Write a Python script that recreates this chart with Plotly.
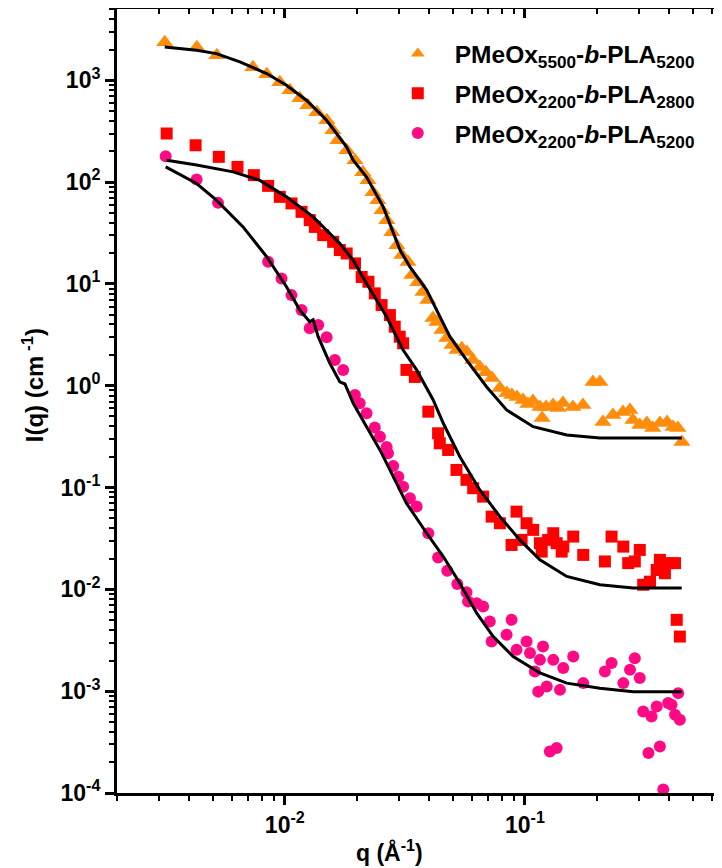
import plotly.graph_objects as go

# ---------------- data ----------------
# PMeOx5500-b-PLA5200 (orange triangles)
q_a = [0.00316, 0.0043, 0.00521, 0.00736, 0.00841, 0.00953, 0.0105, 0.01155, 0.01247, 0.0136,
       0.01496, 0.01585, 0.01663, 0.01813, 0.0196, 0.02113, 0.0222, 0.0233, 0.0244, 0.0254,
       0.0266, 0.0279, 0.0293, 0.0307, 0.0326, 0.0338, 0.0358, 0.0376, 0.0394, 0.0414,
       0.043, 0.0451, 0.0473, 0.0497, 0.0521, 0.0546, 0.0573, 0.0607, 0.0649, 0.0688,
       0.0729, 0.0787, 0.0841, 0.0883, 0.0927, 0.0982, 0.1029, 0.108, 0.1155, 0.118,
       0.1224, 0.131, 0.1373, 0.144, 0.1585, 0.1745, 0.192, 0.2054, 0.2113, 0.2326,
       0.256, 0.2738, 0.2818, 0.301, 0.322, 0.341, 0.365, 0.391, 0.414, 0.434, 0.451]
I_a = [2360, 2110, 1757, 1342, 1146, 956, 797, 666, 569, 486,
       405, 323, 258, 206, 164, 125, 104, 79.6, 66.4, 53,
       42.3, 32.2, 24, 19.2, 16.4, 12.2, 10.4, 8.32, 6.94, 4.62,
       4.22, 3.52, 2.94, 2.51, 2.24, 2.34, 2.14, 1.79, 1.53, 1.36,
       1.19, 0.949, 0.848, 0.811, 0.775, 0.724, 0.661, 0.708, 0.618, 0.482,
       0.618, 0.647, 0.604, 0.676, 0.618, 0.647, 1.09, 1.09, 0.44, 0.515,
       0.552, 0.577, 0.46, 0.411, 0.43, 0.385, 0.43, 0.44, 0.394, 0.385, 0.28]
fit_q_a = [0.00316, 0.00429, 0.00519, 0.0065, 0.0084, 0.01016, 0.0123, 0.01493, 0.0181, 0.01927,
           0.0219, 0.0257, 0.0302, 0.0332, 0.039, 0.0429, 0.0487, 0.0571, 0.0692, 0.0839,
           0.1083, 0.1494, 0.2054, 0.2818, 0.45]
fit_I_a = [2122, 1968, 1827, 1514, 1164, 893, 637, 405, 221, 164,
           112, 57.1, 21.5, 14.7, 8.69, 5.53, 3.03, 1.79, 0.977, 0.578,
           0.396, 0.328, 0.307, 0.307, 0.307]

# PMeOx2200-b-PLA2800 (red squares)
q_b = [0.00322, 0.00425, 0.00531, 0.00635, 0.00743, 0.00852, 0.00953, 0.01066, 0.01174, 0.0127,
       0.01334, 0.01445, 0.0159, 0.01695, 0.0181, 0.0196, 0.0209, 0.0223, 0.0237, 0.0253,
       0.0274, 0.0287, 0.0301, 0.0311, 0.0321, 0.0348, 0.0396, 0.0435, 0.0442, 0.0479,
       0.0519, 0.0571, 0.0609, 0.067, 0.0727, 0.0787, 0.088, 0.0923, 0.0969, 0.1016,
       0.1083, 0.1155, 0.1175, 0.125, 0.1313, 0.1356, 0.1445, 0.1423, 0.159, 0.175,
       0.2154, 0.2296, 0.257, 0.2694, 0.287, 0.301, 0.311, 0.332, 0.354, 0.365,
       0.383, 0.395, 0.422, 0.429, 0.442]
I_b = [300, 230, 177, 141, 117, 91.8, 71.6, 61.7, 51, 42.3,
       36.3, 30.1, 25.9, 21.5, 19.9, 15.9, 11.7, 10.5, 8.07, 6.2,
       4.94, 3.8, 3.03, 2.61, 1.43, 1.22, 0.556, 0.341, 0.272, 0.234,
       0.149, 0.119, 0.0985, 0.0815, 0.0518, 0.0446, 0.0273, 0.058, 0.0306, 0.0446,
       0.0384, 0.0284, 0.0235, 0.0306, 0.0356, 0.0284, 0.0263, 0.0235, 0.033, 0.0218,
       0.0188, 0.033, 0.0263, 0.0181, 0.0188, 0.0244, 0.0111, 0.0119, 0.0155, 0.0195,
       0.0144, 0.0181, 0.0181, 0.00502, 0.00344]
fit_q_b = [0.00322, 0.00429, 0.00609, 0.00787, 0.01016, 0.01312, 0.01695, 0.01927, 0.0219, 0.02655,
           0.0311, 0.0354, 0.0415, 0.0457, 0.0536, 0.0649, 0.0787, 0.0953, 0.1155, 0.1494,
           0.2054, 0.2825, 0.45]
fit_I_b = [164, 147, 126, 104, 71.6, 45.5, 24.9, 17.1, 10.1, 4.75,
           2.24, 1.43, 0.724, 0.428, 0.201, 0.0947, 0.0518, 0.0306, 0.0195, 0.0134,
           0.0111, 0.0103, 0.0103]

# PMeOx2200-b-PLA5200 (pink circles)
q_c = [0.00319, 0.00429, 0.00527, 0.00852, 0.00969, 0.01066, 0.01174, 0.0127, 0.01377, 0.01493,
       0.01616, 0.0175, 0.0196, 0.0205, 0.0219, 0.0237, 0.0249, 0.02655, 0.0269, 0.0283,
       0.0297, 0.0311, 0.0332, 0.0354, 0.0396, 0.0435, 0.0475, 0.0523, 0.0571, 0.058,
       0.063, 0.067, 0.0714, 0.088, 0.0839, 0.0727, 0.0923, 0.1016, 0.105, 0.119,
       0.1155, 0.110, 0.1313, 0.1445, 0.159, 0.175, 0.1233, 0.1136, 0.14, 0.127,
       0.1356, 0.2154, 0.2296, 0.257, 0.274, 0.287, 0.301, 0.311, 0.337, 0.354,
       0.395, 0.408, 0.422, 0.442, 0.435, 0.327, 0.365, 0.377]
I_c = [179, 106, 62.5, 16.5, 11.3, 7.76, 5.53, 3.66, 3.94, 2.99,
       1.79, 1.43, 0.811, 0.672, 0.536, 0.389, 0.316, 0.25, 0.217, 0.163,
       0.128, 0.102, 0.0785, 0.065, 0.0356, 0.0206, 0.0152, 0.0113, 0.00935, 0.00759,
       0.00732, 0.00678, 0.00483, 0.00502, 0.00358, 0.00308, 0.00255, 0.00308, 0.00237, 0.00275,
       0.00203, 0.00156, 0.00203, 0.00169, 0.00219, 0.0012, 0.00111, 0.00099, 0.00103, 0.000256,
       0.000277, 0.00156, 0.00189, 0.0012, 0.00162, 0.00211, 0.00135, 0.000633, 0.000565, 0.000708,
       0.000764, 0.000736, 0.000586, 0.000523, 0.000957, 0.000247, 0.000286, 0.000108]
fit_q_c = [0.00319, 0.00429, 0.00519, 0.0067, 0.0084, 0.01016, 0.01155, 0.0127, 0.01312, 0.01377,
           0.0154, 0.01695, 0.0178, 0.01927, 0.0219, 0.0249, 0.0283, 0.0321, 0.039, 0.0457,
           0.0536, 0.063, 0.0738, 0.0894, 0.1155, 0.1494, 0.2054, 0.2825, 0.45]
fit_I_c = [141, 96.8, 66.4, 36.3, 18.5, 9.37, 5.53, 4.25, 4.45, 3.03,
           1.66, 1.09, 1.04, 0.672, 0.396, 0.234, 0.128, 0.0702, 0.0356, 0.021,
           0.0115, 0.00583, 0.00344, 0.00219, 0.00151, 0.0012, 0.00107, 0.00099, 0.00099]

names = ["PMeOx<sub>5500</sub>-<i>b</i>-PLA<sub>5200</sub>",
         "PMeOx<sub>2200</sub>-<i>b</i>-PLA<sub>2800</sub>",
         "PMeOx<sub>2200</sub>-<i>b</i>-PLA<sub>5200</sub>"]
colors = ["#FF8C0A", "#FF0000", "#FF0A84"]
symbols = ["triangle-up", "square", "circle"]
sizes = [15, 12, 12]

y_tickvals = [1e-4, 1e-3, 1e-2, 1e-1, 1, 10, 100, 1000]
y_ticktext = ["10<sup>-4</sup>", "10<sup>-3</sup>", "10<sup>-2</sup>", "10<sup>-1</sup>",
              "10<sup>0</sup>", "10<sup>1</sup>", "10<sup>2</sup>", "10<sup>3</sup>"]
x_tickvals = [0.01, 0.1]
x_ticktext = ["10<sup>-2</sup>", "10<sup>-1</sup>"]

FONT = "Arial, Liberation Sans, sans-serif"

fig = go.Figure()
series = [(q_a, I_a), (q_b, I_b), (q_c, I_c)]
fits = [(fit_q_a, fit_I_a), (fit_q_b, fit_I_b), (fit_q_c, fit_I_c)]
for i, (qq, ii) in enumerate(series):
    fig.add_trace(go.Scatter(x=qq, y=ii, mode="markers", name=names[i], legendgroup=f"g{i}",
                             marker=dict(symbol=symbols[i], size=sizes[i], color=colors[i],
                                         line=dict(width=0))))
for qq, ii in fits:
    fig.add_trace(go.Scatter(x=qq, y=ii, mode="lines", showlegend=False,
                             line=dict(color="black", width=3)))
# empty trace to carry the mirror (top/right) axes
fig.add_trace(go.Scatter(x=[], y=[], xaxis="x2", yaxis="y2", showlegend=False, hoverinfo="skip"))

XR = [-2.699, -0.179]
YR = [-4, 3.7]

fig.update_layout(
    width=714, height=860,
    margin=dict(l=109, r=0, t=1, b=75),
    paper_bgcolor="white", plot_bgcolor="white",
    showlegend=True,
    legend=dict(x=0.436, y=0.972, xanchor="left", yanchor="top", bgcolor="rgba(0,0,0,0)",
                font=dict(family=FONT, size=24.5, color="black", weight="bold"),
                tracegroupgap=5, itemwidth=64, itemsizing="constant"),
    xaxis=dict(type="log", range=XR, showgrid=False, zeroline=False, automargin=False,
               showline=True, linecolor="black", linewidth=3,
               ticks="outside", ticklen=9, tickwidth=2.5, tickcolor="black",
               tickmode="array", tickvals=x_tickvals, ticktext=x_ticktext,
               tickfont=dict(family=FONT, size=23, color="black", weight="bold"),
               minor=dict(ticks="outside", ticklen=5, tickwidth=2, tickcolor="black", dtick="D1", showgrid=False)),
    yaxis=dict(type="log", range=YR, showgrid=False, zeroline=False, automargin=False,
               showline=True, linecolor="black", linewidth=3,
               ticks="outside", ticklen=9, tickwidth=2.5, tickcolor="black",
               tickmode="array", tickvals=y_tickvals, ticktext=y_ticktext,
               tickfont=dict(family=FONT, size=23, color="black", weight="bold"),
               minor=dict(ticks="outside", ticklen=5, tickwidth=2, tickcolor="black", dtick="D1", showgrid=False)),
    xaxis2=dict(type="log", range=XR, overlaying="x", side="top", anchor="y2", automargin=False,
                showgrid=False, zeroline=False, showline=True, linecolor="black", linewidth=3,
                ticks="inside", ticklen=9, tickwidth=2.5, tickcolor="black",
                tickmode="array", tickvals=x_tickvals, showticklabels=False,
                minor=dict(ticks="inside", ticklen=5, tickwidth=2, tickcolor="black", dtick="D1", showgrid=False)),
    yaxis2=dict(type="log", range=YR, overlaying="y", side="right", anchor="x2", automargin=False,
                showgrid=False, zeroline=False, showline=False,
                ticks="inside", ticklen=8, tickwidth=2.5, tickcolor="black",
                tickmode="array", tickvals=y_tickvals, showticklabels=False),
    annotations=[
        dict(text="q (Å<sup>-1</sup>)", xref="paper", yref="paper", x=0.451, y=-0.0745,
             xanchor="center", yanchor="middle", showarrow=False,
             font=dict(family=FONT, size=23, color="black", weight="bold")),
        dict(text="I(q) (cm<sup> -1</sup>)", xref="paper", yref="paper", x=-0.139, y=0.52,
             xanchor="center", yanchor="middle", showarrow=False, textangle=-90,
             font=dict(family=FONT, size=24, color="black", weight="bold")),
    ],
)

fig.write_html("out.html")
